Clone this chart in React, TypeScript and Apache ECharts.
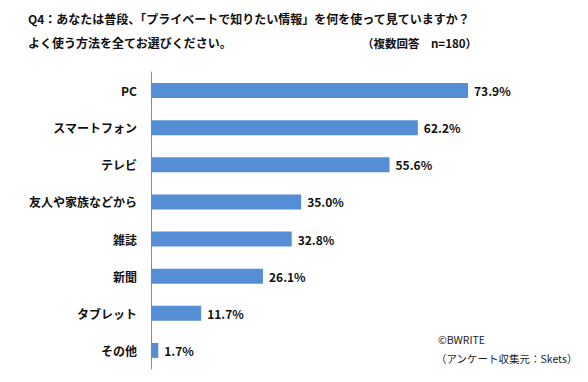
import React, { useEffect, useRef } from "react";
import * as echarts from "echarts";

const categories = ["PC", "スマートフォン", "テレビ", "友人や家族などから", "雑誌", "新聞", "タブレット", "その他"];
const values = [73.9, 62.2, 55.6, 35.0, 32.8, 26.1, 11.7, 1.7];
const titleLine1 = "Q4：あなたは普段、「プライベートで知りたい情報」を何を使って見ていますか？";
const titleLine2 = "よく使う方法を全てお選びください。";
const noteText = "（複数回答　n=180）";
const creditText = "©BWRITE";
const sourceText = "（アンケート収集元：Skets）";

const FONT = "'Noto Sans CJK JP', 'Noto Sans', sans-serif";

export default function App() {
  const ref = useRef<HTMLDivElement>(null);
  useEffect(() => {
    if (!ref.current) return;
    const chart = echarts.init(ref.current, null, { renderer: "svg" });
    chart.setOption({
      animation: false,
      backgroundColor: "#ffffff",
      textStyle: { fontFamily: FONT },
      graphic: [
        { type: "text", left: 28, top: 12, style: { text: titleLine1, font: `bold 12px ${FONT}`, fill: "#111" } },
        { type: "text", left: 28, top: 36, style: { text: titleLine2, font: `bold 12px ${FONT}`, fill: "#111" } },
        { type: "text", left: 362, top: 37, style: { text: noteText, font: `bold 11.5px ${FONT}`, fill: "#111" } },
        { type: "text", left: 438, top: 334, style: { text: creditText, font: `10.5px ${FONT}`, fill: "#222" } },
        { type: "text", left: 436, top: 353, style: { text: sourceText, font: `10.5px ${FONT}`, fill: "#222" } },
      ],
      grid: { left: 151, top: 72, width: 429, height: 297, containLabel: false },
      xAxis: {
        type: "value",
        min: 0,
        max: 100,
        show: false,
      },
      yAxis: {
        type: "category",
        data: categories,
        inverse: true,
        axisLine: { show: true, lineStyle: { color: "#8c8c8c", width: 1 } },
        axisTick: { show: false },
        axisLabel: { color: "#111", fontWeight: "bold", fontSize: 12, margin: 14, fontFamily: FONT },
      },
      series: [
        {
          type: "bar",
          data: values,
          barWidth: 15,
          itemStyle: { color: "#558ed5" },
          label: {
            show: true,
            position: "right",
            distance: 6,
            formatter: (p: any) => p.value.toFixed(1) + "%",
            color: "#111",
            fontWeight: "bold",
            fontSize: 12,
            fontFamily: FONT,
          },
        },
      ],
    });
    return () => chart.dispose();
  }, []);
  return <div ref={ref} style={{ width: 588, height: 382, position: "absolute", left: 0, top: 0 }} />;
}
